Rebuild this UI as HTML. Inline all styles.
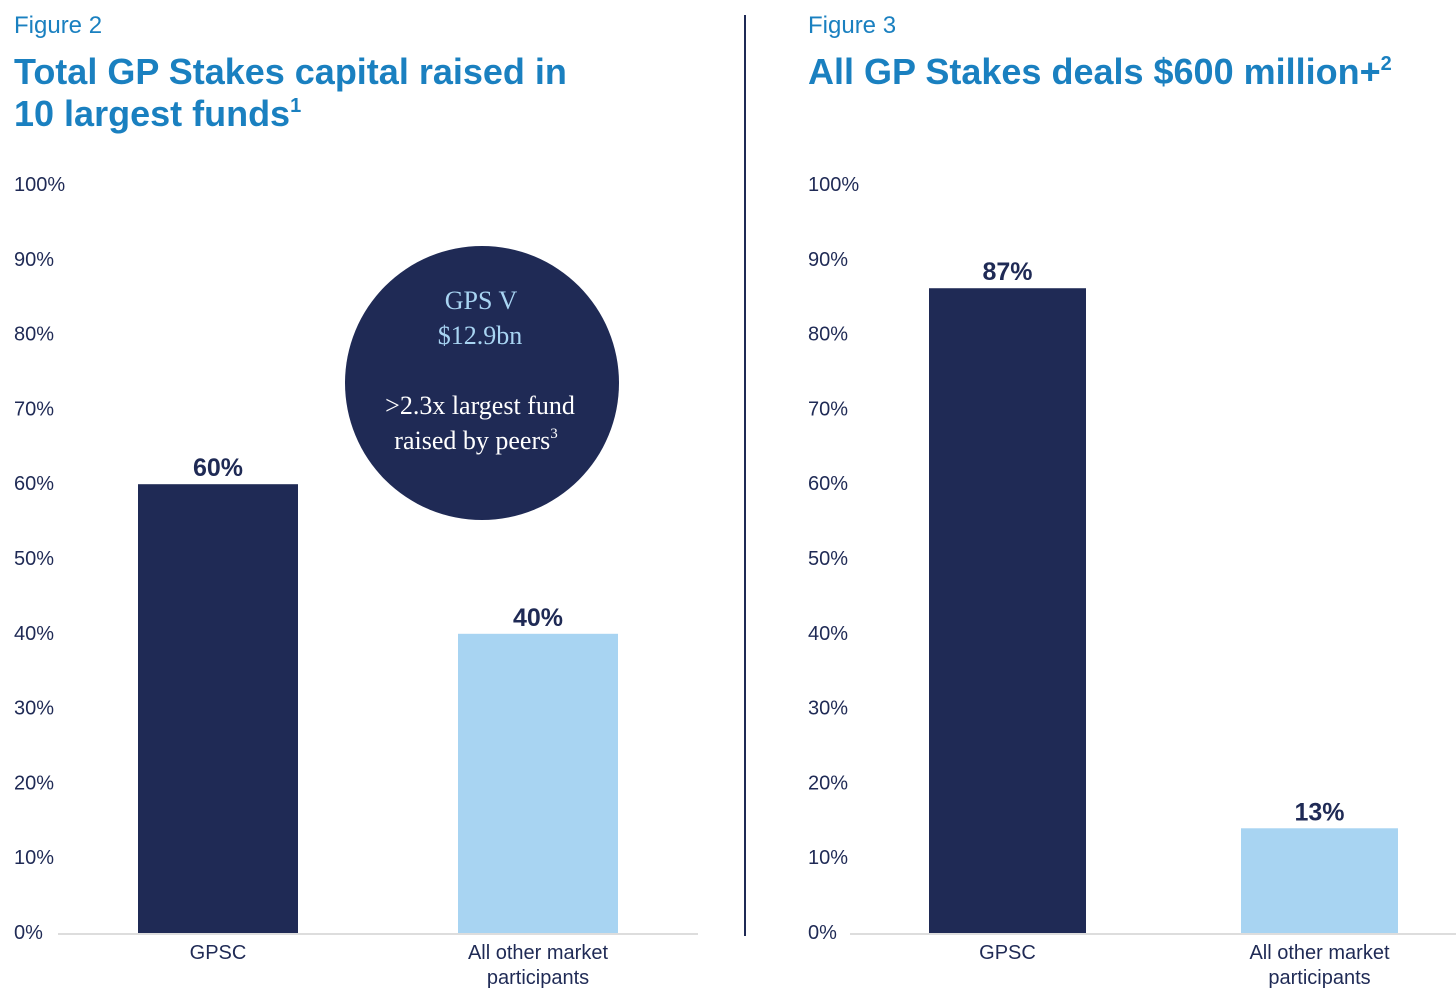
<!DOCTYPE html>
<html><head><meta charset="utf-8"><style>
body{margin:0;background:#fff;}
svg text{font-family:"Liberation Sans",sans-serif;}
</style></head><body>
<svg width="1456" height="998" viewBox="0 0 1456 998" xmlns="http://www.w3.org/2000/svg">
<text x="14" y="33" font-size="24" fill="#1a80c0">Figure 2</text>
<text x="14" y="84" font-size="36" font-weight="bold" fill="#1a80c0">Total GP Stakes capital raised in</text>
<text x="14" y="126" font-size="36" font-weight="bold" fill="#1a80c0">10 largest funds<tspan font-size="20" dy="-14">1</tspan></text>
<text x="808" y="33" font-size="24" fill="#1a80c0">Figure 3</text>
<text x="808" y="84" font-size="36" font-weight="bold" fill="#1a80c0">All GP Stakes deals $600 million+<tspan font-size="20" dy="-14">2</tspan></text>
<line x1="745" y1="15" x2="745" y2="936" stroke="#1f2a55" stroke-width="2"/>
<g id="c1"></g>
<g id="c2"></g>
<g>
<circle cx="482" cy="383" r="137" fill="#1f2a55"/>
<text x="481" y="309" font-size="26" text-anchor="middle" fill="#a8d4f2" style="font-family:'Liberation Serif',serif">GPS V</text>
<text x="480" y="344" font-size="26" text-anchor="middle" fill="#a8d4f2" style="font-family:'Liberation Serif',serif">$12.9bn</text>
<text x="480" y="414" font-size="26" text-anchor="middle" fill="#fff" style="font-family:'Liberation Serif',serif">&gt;2.3x largest fund</text>
<text x="476" y="449" font-size="26" text-anchor="middle" fill="#fff" style="font-family:'Liberation Serif',serif">raised by peers<tspan font-size="15" dy="-11">3</tspan></text>
</g>
</svg>
<script>
const categories=[["GPSC"],["All other market","participants"]];
const fig2Values=[60,40];
const fig2Labels=["60%","40%"];
const fig3Values=[86.2,14];
const fig3Labels=["87%","13%"];
const tickValues=[0,10,20,30,40,50,60,70,80,90,100];
const colors=["#1f2a55","#a8d4f2"];
const NS="http://www.w3.org/2000/svg";
function mk(p,t,a){const e=document.createElementNS(NS,t);for(const k in a)e.setAttribute(k,a[k]);p.appendChild(e);return e;}
function draw(id,vals,labels,o){
 const g=document.getElementById(id);
 const y=v=>933-v*7.48;
 tickValues.forEach(t=>{const e=mk(g,'text',{x:o.tx,y:y(t)+6,'font-size':20,fill:'#1f2a55'});e.textContent=t+'%';
 
 });
 const ax=mk(g,'line',{x1:o.ax1,x2:o.ax2,y1:934,y2:934,stroke:'#ddd','stroke-width':2});
 
 
 vals.forEach((v,i)=>{
  const x=o.bx[i];
  const r=mk(g,'rect',{x:x,y:y(v),width:o.bw,height:933-y(v),fill:colors[i]});
  
  
  const l=mk(g,'text',{x:x+o.bw/2,y:y(v)-8,'font-size':25,'font-weight':'bold','text-anchor':'middle',fill:'#1f2a55'});l.textContent=labels[i];
  
  
  categories[i].forEach((c,j)=>{const t=mk(g,'text',{x:x+o.bw/2,y:959+j*25,'font-size':20,'text-anchor':'middle',fill:'#1f2a55'});t.textContent=c;
  
  });
 });
}
draw('c1',fig2Values,fig2Labels,{tx:14,ax1:58,ax2:698,bx:[138,458],bw:160});
draw('c2',fig3Values,fig3Labels,{tx:808,ax1:850,ax2:1456,bx:[929,1241],bw:157});
</script>
</body></html>
